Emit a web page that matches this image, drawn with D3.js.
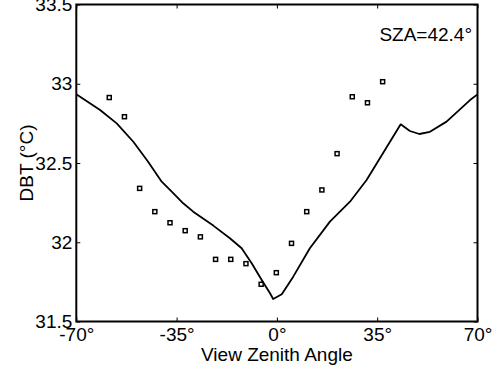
<!DOCTYPE html>
<html>
<head>
<meta charset="utf-8">
<script src="https://cdn.jsdelivr.net/npm/d3@7"></script>
<style>
  html, body { margin: 0; padding: 0; background: #fff; }
  svg { display: block; }
  text { font-family: "Liberation Sans", Arial, Helvetica, sans-serif; fill: #000; }
</style>
</head>
<body>
<svg id="chart" width="500" height="371"></svg>
<script>
// Observed brightness temperature (squares) by view zenith angle
const obsAngle = [-58.5, -53.2, -47.9, -42.6, -37.3, -32.0, -26.7, -21.4, -16.1, -10.8,
                  -5.5, -0.2, 5.1, 10.4, 15.7, 21.0, 26.3, 31.6, 36.9];
const obsDBT   = [32.913, 32.792, 32.340, 32.193, 32.123, 32.073, 32.034, 31.892, 31.892, 31.865,
                  31.735, 31.808, 31.993, 32.193, 32.330, 32.559, 32.918, 32.880, 33.013];

// Modelled brightness temperature (solid line)
const modAngle = [-70, -61.7, -55.9, -50.1, -45.0, -40.2, -36.1, -32.7, -29.2, -22.2,
                  -16.4, -12.3, -8.8, -5.3, -2.4, -1.3, 1.7, 5.7, 11.5, 18.5,
                  25.5, 31.3, 37.7, 43.2, 46.4, 49.7, 53.4, 59.2, 67.4, 70];
const modDBT   = [32.933, 32.834, 32.750, 32.634, 32.510, 32.382, 32.309, 32.246, 32.193, 32.105,
                  32.025, 31.962, 31.867, 31.762, 31.678, 31.642, 31.672, 31.783, 31.962, 32.130,
                  32.256, 32.393, 32.582, 32.744, 32.702, 32.683, 32.697, 32.761, 32.897, 32.933];

// Axis ticks and labels
const xTicks = [-70, -35, 0, 35, 70];
const xTickLabels = ["-70°", "-35°", "0°", "35°", "70°"];
const yTicks = [31.5, 32, 32.5, 33, 33.5];
const yTickLabels = ["31.5", "32", "32.5", "33", "33.5"];

const xTitle = "View Zenith Angle";
const yTitle = "DBT (°C)";
const note = "SZA=42.4°";

const svg = d3.select("#chart");
const plotLeft = 76.3, plotRight = 477.5, plotTop = 4.5, plotBottom = 321.5;

const x = d3.scaleLinear().domain([-70, 70]).range([plotLeft, plotRight]);
const y = d3.scaleLinear().domain([31.5, 33.5]).range([plotBottom, plotTop]);

const fontSize = 19;

// Axes with inward ticks
const xLabel = d => xTickLabels[xTicks.indexOf(d)];
const yLabel = d => yTickLabels[yTicks.indexOf(d)];

function styleAxis(g) {
  g.select(".domain").remove();
  g.selectAll(".tick line").attr("stroke", "#000").attr("stroke-width", 1);
  g.selectAll(".tick text").attr("font-size", fontSize).attr("font-family", null).attr("fill", "#000");
}

svg.append("g").attr("transform", `translate(0,${plotBottom})`)
  .call(d3.axisBottom(x).tickValues(xTicks).tickFormat(xLabel).tickSize(-4).tickPadding(6))
  .call(styleAxis);
svg.append("g").attr("transform", `translate(0,${plotTop})`)
  .call(d3.axisTop(x).tickValues(xTicks).tickFormat("").tickSize(-4))
  .call(styleAxis);
svg.append("g").attr("transform", `translate(${plotLeft},0)`)
  .call(d3.axisLeft(y).tickValues(yTicks).tickFormat(yLabel).tickSize(-4).tickPadding(4))
  .call(styleAxis);
svg.append("g").attr("transform", `translate(${plotRight},0)`)
  .call(d3.axisRight(y).tickValues(yTicks).tickFormat("").tickSize(-4))
  .call(styleAxis);

// Plot frame
svg.append("rect")
  .attr("x", plotLeft).attr("y", plotTop)
  .attr("width", plotRight - plotLeft).attr("height", plotBottom - plotTop)
  .attr("fill", "none").attr("stroke", "#000").attr("stroke-width", 2);

// Model curve
const line = d3.line()
  .x((d, i) => x(modAngle[i]))
  .y((d, i) => y(modDBT[i]))
  .curve(d3.curveLinear);
svg.append("path")
  .datum(modDBT)
  .attr("d", line)
  .attr("fill", "none")
  .attr("stroke", "#000")
  .attr("stroke-width", 1.8)
  .attr("stroke-linejoin", "round");

// Observation markers
const sq = 4;
svg.append("g").selectAll("rect")
  .data(obsDBT)
  .join("rect")
  .attr("x", (d, i) => x(obsAngle[i]) - sq / 2)
  .attr("y", d => y(d) - sq / 2)
  .attr("width", sq).attr("height", sq)
  .attr("fill", "#fff")
  .attr("stroke", "#000")
  .attr("stroke-width", 1.5);

// Titles
svg.append("text")
  .attr("x", (plotLeft + plotRight) / 2).attr("y", 361)
  .attr("text-anchor", "middle")
  .attr("font-size", fontSize)
  .text(xTitle);

svg.append("text")
  .attr("transform", `translate(33,${(plotTop + plotBottom) / 2}) rotate(-90)`)
  .attr("text-anchor", "middle")
  .attr("font-size", fontSize)
  .text(yTitle);

svg.append("text")
  .attr("x", 472).attr("y", 40.5)
  .attr("text-anchor", "end")
  .attr("font-size", fontSize)
  .text(note);
</script>
</body>
</html>
